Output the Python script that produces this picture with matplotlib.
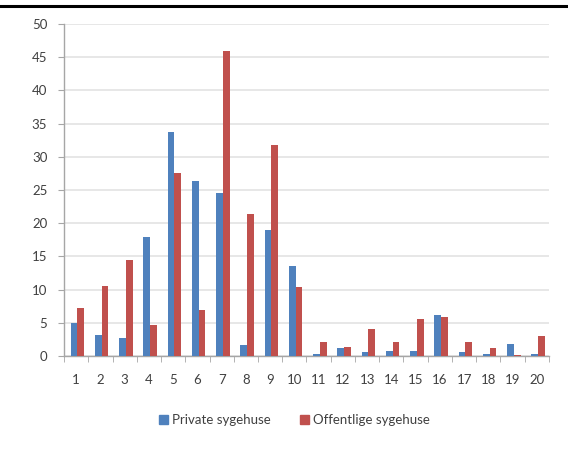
import matplotlib
matplotlib.use("Agg")
import matplotlib.pyplot as plt
from matplotlib.patches import Patch
from matplotlib.ticker import MultipleLocator, FixedLocator
import numpy as np

categories = [str(i) for i in range(1, 21)]
private = [5.0, 3.1, 2.7, 17.9, 33.8, 26.3, 24.5, 1.6, 19.0, 13.5,
           0.25, 1.25, 0.55, 0.75, 0.8, 6.2, 0.55, 0.25, 1.8, 0.35]
public = [7.2, 10.6, 14.5, 4.7, 27.5, 6.9, 45.9, 21.4, 31.8, 10.4,
          2.1, 1.35, 4.0, 2.1, 5.5, 5.8, 2.1, 1.2, 0.15, 3.0]
series_names = ["Private sygehuse", "Offentlige sygehuse"]

blue = "#4F81BD"
red = "#C0504D"
text_col = "#404040"
axis_col = "#A6A6A6"

plt.rcParams["font.family"] = ["Lato", "DejaVu Sans"]

fig = plt.figure(figsize=(5.68, 4.75), dpi=100)
ax = fig.add_axes([0.1127, 0.2505, 0.8538, 0.699])

x = np.arange(1, len(categories) + 1)
w = 0.28
ax.bar(x - w / 2 + 0.05, private, width=w, color=blue, zorder=3)
ax.bar(x + w / 2 + 0.05, public, width=w, color=red, zorder=3)

ax.set_xlim(0.5, len(categories) + 0.5)
ax.set_ylim(0, 50)
ax.yaxis.set_major_locator(MultipleLocator(5))
ax.grid(axis="y", color="#E3E3E3", linewidth=1.2, zorder=0)

ax.set_xticks(x)
ax.set_xticklabels(categories)
ax.xaxis.set_minor_locator(FixedLocator(np.arange(0.5, len(categories) + 1, 1)))
ax.tick_params(axis="x", which="major", length=0, pad=13, labelsize=9.5, labelcolor=text_col)
ax.tick_params(axis="x", which="minor", length=4, color=axis_col, direction="out")
ax.tick_params(axis="y", which="major", length=4, color=axis_col, pad=8, labelsize=9.5, labelcolor=text_col)

for side in ("top", "right"):
    ax.spines[side].set_visible(False)
for side in ("left", "bottom"):
    ax.spines[side].set_color(axis_col)
    ax.spines[side].set_linewidth(1.0)

handles = [Patch(color=blue), Patch(color=red)]
fig.legend(handles, series_names, loc="center", bbox_to_anchor=(0.518, 0.116),
           ncol=2, frameon=False, fontsize=9.5, labelcolor=text_col,
           handlelength=0.7, handleheight=0.7, handletextpad=0.3, columnspacing=2.2)

# page rule above the chart
fig.add_artist(plt.Line2D([0, 1], [0.9875, 0.9875], transform=fig.transFigure,
                          color="black", linewidth=2.2))

fig.savefig("out.png", dpi=100)
